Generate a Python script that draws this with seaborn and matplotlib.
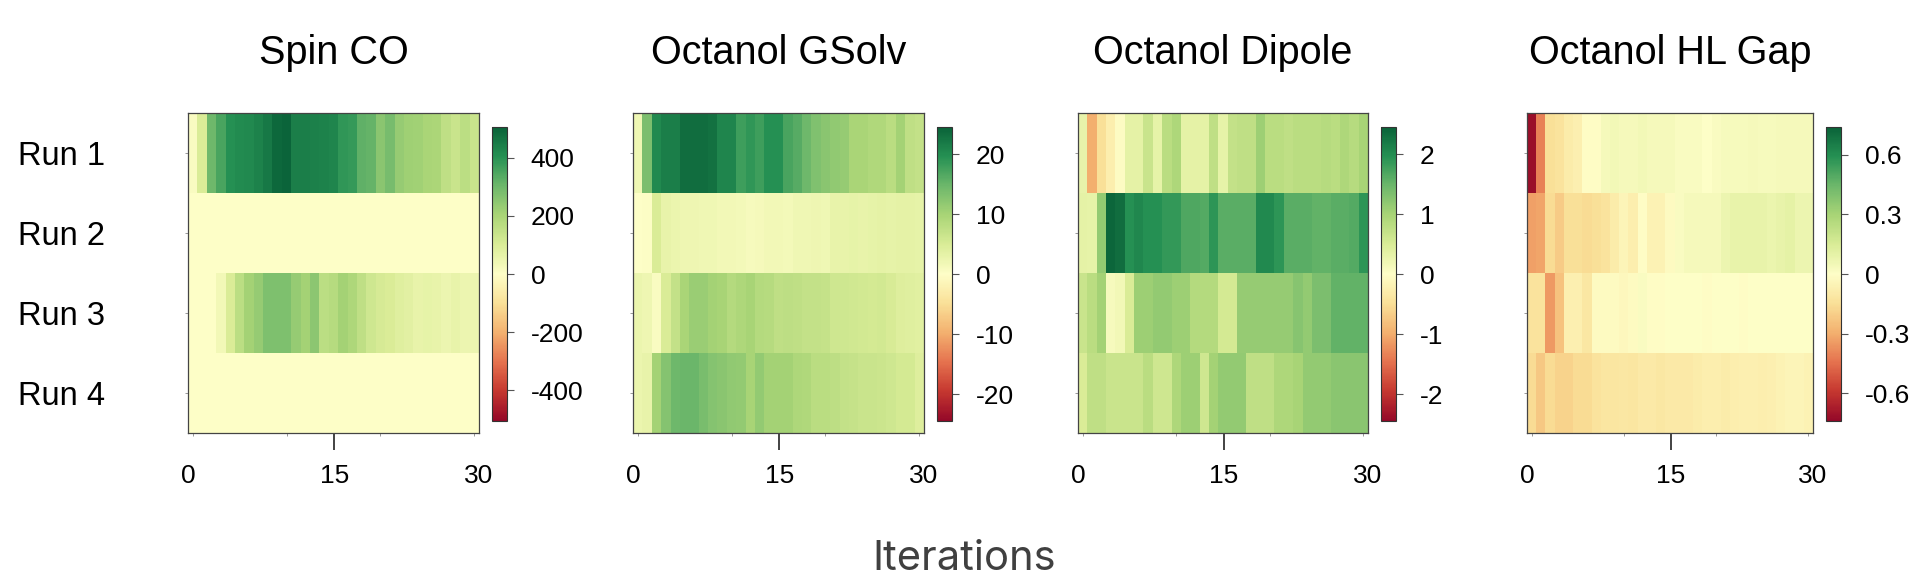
import numpy as np
import pandas as pd
import seaborn as sns
import matplotlib.pyplot as plt
from matplotlib.colors import ListedColormap

plt.rcParams['font.family'] = ['Liberation Sans', 'DejaVu Sans']
plt.rcParams['axes.unicode_minus'] = False   # 음수 부호를 하이픈으로

# 행 / 열 이름
runs = ['Run 1', 'Run 2', 'Run 3', 'Run 4']
iterations = list(range(31))

# Spin CO
spin_run1 = [15, 100, 300, 355, 405, 415, 420, 435, 455, 490, 500, 445, 445, 440, 435, 430,
             390, 380, 320, 315, 255, 285, 235, 220, 215, 200, 195, 155, 135, 165, 135]
spin_run2 = [0, 0, 0, 0, 0, 0, 0, 0, 0, 0, 0, 0, 0, 0, 0, 0,
             0, 0, 0, 0, 0, 0, 0, 0, 0, 0, 0, 0, 0, 0, 0]
spin_run3 = [0, 0, 0, 35, 100, 165, 210, 235, 275, 275, 275, 235, 210, 250, 165, 175,
             210, 190, 155, 125, 110, 100, 85, 75, 60, 65, 60, 50, 60, 50, 50]
spin_run4 = [0, 0, 0, 0, 0, 0, 0, 0, 0, 0, 0, 0, 0, 0, 0, 0,
             0, 0, 0, 0, 0, 0, 0, 0, 0, 0, 0, 0, 0, 0, 0]

# Octanol GSolv
gsolv_run1 = [2, 13.5, 20.3, 21.5, 21.5, 23.3, 23.3, 23.3, 22.8, 20.8, 20.8, 17.9, 18.9, 17.9, 19.6, 19.6,
              17.2, 16.2, 14.7, 13.2, 12.3, 11.8, 11.3, 9.6, 9.6, 9.1, 9.1, 8.1, 10.3, 7.6, 7.1]
gsolv_run2 = [0, 0.2, 4.9, 2.9, 2.5, 2.2, 2.2, 2, 2, 1.7, 1.7, 1.5, 1, 1.2, 1.7, 1.7,
              1.5, 2, 2, 2.2, 2, 2.9, 2.9, 3.2, 2.9, 3.2, 3.4, 3.2, 3.4, 3.4, 3.2]
gsolv_run3 = [2.5, 2.2, 0.7, 4.9, 7.1, 9.6, 11, 11, 10.3, 9.8, 8.8, 9.3, 9.8, 8.8, 8.6, 7.6,
              7.8, 7.6, 7.1, 7.1, 6.9, 6.1, 6.1, 5.9, 5.6, 5.4, 5.6, 5.1, 4.4, 4.2, 3.9]
gsolv_run4 = [2.5, 2.9, 10.3, 12.7, 14.7, 14.9, 14.9, 13.7, 12.7, 12.3, 11.8, 11.5, 9.8, 11.5, 10.3, 10.3,
              10.3, 9.3, 9.1, 8.1, 8.1, 7.8, 7.1, 6.9, 6.6, 6.6, 6.4, 6.1, 5.4, 5.4, 4.4]

# Octanol Dipole
dipole_run1 = [0.29, -0.98, -0.49, -0.25, -0.05, 0.34, 0.34, 0.66, 0.32, 0.81, 0.93, 0.34, 0.34, 0.34, 0.76, 0.32,
               0.71, 0.76, 0.76, 1.08, 0.81, 0.81, 0.76, 0.81, 0.81, 0.81, 0.86, 0.81, 0.93, 0.86, 0.98]
dipole_run2 = [0.34, 0.32, 1.15, 2.4, 2.33, 1.96, 2.06, 1.96, 1.96, 1.86, 1.86, 1.67, 1.67, 1.64, 1.91, 1.59,
               1.59, 1.59, 1.59, 2.03, 2.03, 1.91, 1.59, 1.59, 1.59, 1.54, 1.54, 1.59, 1.59, 1.64, 1.91]
dipole_run3 = [0.66, 0.81, 1.03, 0.1, 0.17, 0.49, 1.08, 1.08, 1.15, 1.15, 1.08, 1.08, 0.88, 0.88, 0.88, 0.54,
               0.54, 1.13, 1.13, 1.13, 1.13, 1.13, 1.13, 1.25, 1.15, 1.35, 1.35, 1.54, 1.54, 1.54, 1.54]
dipole_run4 = [0.49, 0.76, 0.76, 0.66, 0.66, 0.66, 0.66, 0.81, 0.61, 0.61, 0.93, 1.08, 1.08, 0.61, 1.03, 1.15,
               1.15, 1.15, 0.76, 0.76, 0.76, 0.93, 0.93, 0.98, 1.15, 1.15, 1.15, 1.23, 1.23, 1.23, 1.23]

# Octanol HL Gap
gap_run1 = [-0.72, -0.41, -0.15, -0.13, -0.09, -0.07, -0.01, -0.01, 0.04, 0.05, 0.04, 0.04, 0.05, 0.04, 0.04, 0.04,
            0.02, 0.02, 0.02, 0.0, 0.02, 0.03, 0.03, 0.03, 0.04, 0.03, 0.03, 0.04, 0.04, 0.04, 0.04]
gap_run2 = [-0.33, -0.32, -0.16, -0.21, -0.15, -0.15, -0.16, -0.15, -0.13, -0.09, -0.05, -0.08, -0.01, -0.06, -0.06, -0.02,
            0.02, 0.04, 0.04, 0.04, 0.04, 0.07, 0.09, 0.09, 0.09, 0.09, 0.08, 0.09, 0.1, 0.07, 0.07]
gap_run3 = [-0.13, -0.13, -0.35, -0.24, -0.07, -0.07, -0.11, -0.02, -0.02, -0.02, -0.03, -0.02, 0.02, -0.01, -0.01, 0.0,
            0.0, 0.0, 0.0, -0.01, 0.0, 0.0, 0.0, -0.01, 0.0, 0.0, 0.0, 0.0, 0.0, 0.0, 0.0]
gap_run4 = [-0.16, -0.22, -0.16, -0.19, -0.19, -0.16, -0.16, -0.13, -0.12, -0.12, -0.11, -0.12, -0.1, -0.1, -0.11, -0.1,
            -0.1, -0.1, -0.09, -0.08, -0.08, -0.09, -0.08, -0.07, -0.07, -0.08, -0.07, -0.06, -0.05, -0.05, -0.06]

titles = ['Spin CO', 'Octanol GSolv', 'Octanol Dipole', 'Octanol HL Gap']
limits = [505, 24.5, 2.45, 0.74]
cbar_ticks = [[400, 200, 0, -200, -400], [20, 10, 0, -10, -20], [2, 1, 0, -1, -2], [0.6, 0.3, 0, -0.3, -0.6]]
cbar_labels = [['400', '200', '0', '-200', '-400'], ['20', '10', '0', '-10', '-20'],
               ['2', '1', '0', '-1', '-2'], ['0.6', '0.3', '0', '-0.3', '-0.6']]
x_labels = ['0', '15', '30']

data = [[spin_run1, spin_run2, spin_run3, spin_run4],
        [gsolv_run1, gsolv_run2, gsolv_run3, gsolv_run4],
        [dipole_run1, dipole_run2, dipole_run3, dipole_run4],
        [gap_run1, gap_run2, gap_run3, gap_run4]]

# RdYlGn 을 약간 탁하게
base = plt.get_cmap('RdYlGn')(np.linspace(0, 1, 256))[:, :3]
lum = base @ np.array([0.299, 0.587, 0.114])
cmap = ListedColormap(base * 0.85 + lum[:, None] * 0.15)

W, H = 1928, 588
fig = plt.figure(figsize=(W / 100, H / 100), dpi=100)

# 패널 위치 (픽셀)
lefts = [188, 633, 1078, 1527]
widths = [291, 291, 290, 286]

for i in range(4):
    df = pd.DataFrame(data[i], index=runs, columns=iterations)
    ax = fig.add_axes([lefts[i] / W, 1 - 433 / H, widths[i] / W, 320 / H])
    cax = fig.add_axes([(lefts[i] + widths[i] + 13) / W, 1 - 421 / H, 15 / W, 294 / H])
    sns.heatmap(df, ax=ax, cbar_ax=cax, cmap=cmap, vmin=-limits[i], vmax=limits[i],
                xticklabels=False, yticklabels=False, linewidths=0)

    # 테두리
    for s in ax.spines.values():
        s.set_visible(True)
        s.set_color('#444444')
        s.set_linewidth(0.9)

    # x 축 : 작은 눈금 + 0 / 15 / 30 라벨
    n = len(iterations)
    ax.set_xticks([0.5, 10.5, 20.5, 30.5], minor=True)
    ax.set_xticks([0, n / 2 + 0.1, n])
    ax.set_xticklabels(x_labels, fontsize=19)
    ax.tick_params(axis='x', which='major', length=12, width=1.2, color='#222222', pad=10, rotation=0)
    ax.tick_params(axis='x', which='minor', length=2, width=0.6, color='#888888')
    tl = ax.xaxis.get_majorticklines()
    tl[0].set_visible(False)
    tl[4].set_visible(False)

    # y 축
    ax.set_yticks(np.arange(len(runs)) + 0.5)
    if i == 0:
        ax.set_yticklabels(runs, fontsize=23.5, rotation=0)
        ax.tick_params(axis='y', length=2, width=0.6, color='#888888', pad=58)
    else:
        ax.set_yticklabels([])
        ax.tick_params(axis='y', length=2, width=0.6, color='#888888')

    ax.set_xlabel('')
    ax.set_ylabel('')
    ax.set_title(titles[i], fontsize=28.5, pad=35)

    # 컬러바
    cbar = ax.collections[0].colorbar
    cbar.set_ticks(cbar_ticks[i])
    cbar.set_ticklabels(cbar_labels[i])
    cbar.ax.tick_params(length=5, width=0.8, color='#555555', labelsize=19, pad=12)
    cbar.outline.set_edgecolor('#333333')
    cbar.outline.set_linewidth(0.8)

fig.text(0.5, 1 - 570 / H, 'Iterations', ha='center', va='baseline', fontsize=30,
         color='#404040', family=['Inter', 'DejaVu Sans'])

plt.savefig('out.png', dpi=100)
